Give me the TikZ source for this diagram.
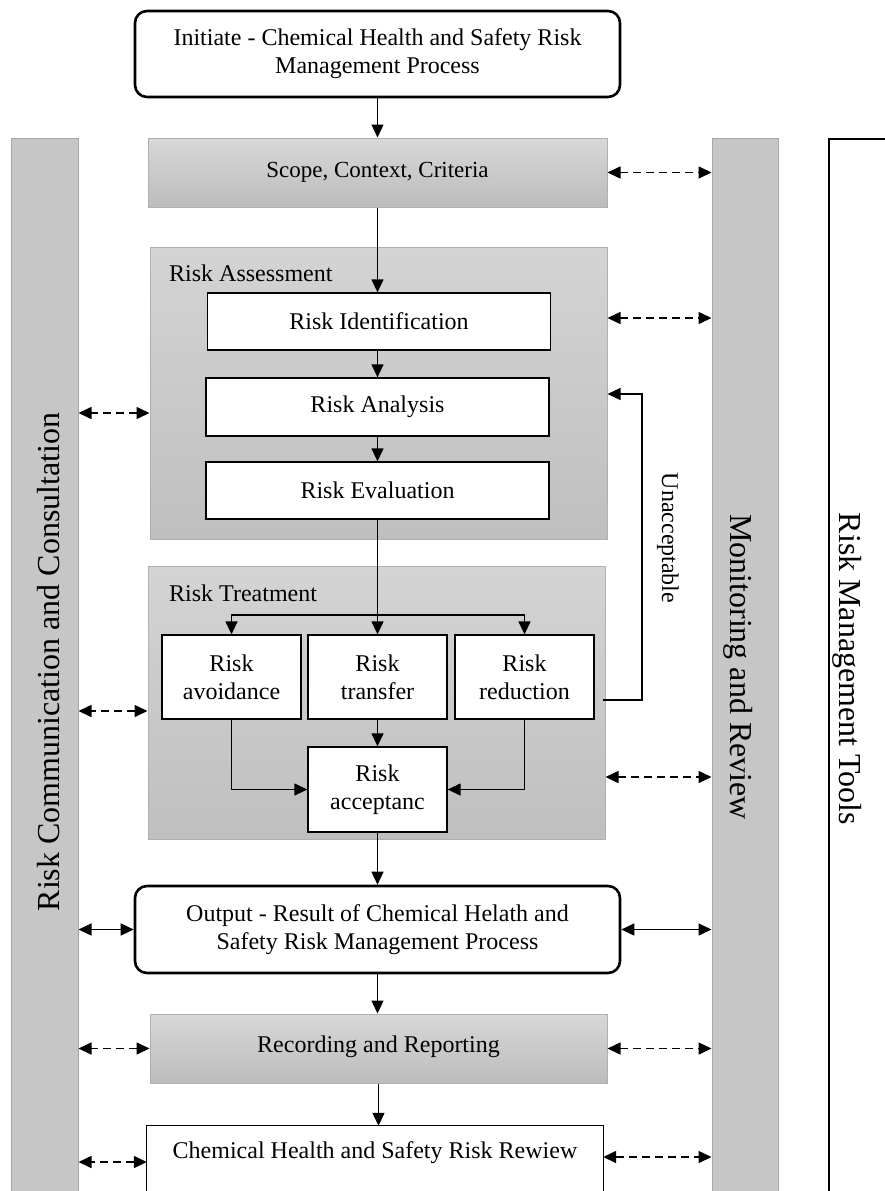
\documentclass[tikz,border=0pt]{standalone}
\usepackage{fontspec}
\setmainfont{Liberation Serif}
\usetikzlibrary{arrows.meta}
\definecolor{gtop}{HTML}{D8D8D8}
\definecolor{gbot}{HTML}{BCBCBC}
\definecolor{ctop}{HTML}{D4D4D4}
\definecolor{cbot}{HTML}{BFBFBF}
\definecolor{boxline}{HTML}{B0B0B0}
\definecolor{barfill}{HTML}{C6C6C6}
\definecolor{barline}{HTML}{A8A8A8}
\begin{document}
\begin{tikzpicture}[x=1pt,y=-1pt,
  font=\fontsize{24}{28}\selectfont,
  wbox/.style={draw=black, fill=white, line width=1.3pt, align=center, inner sep=0pt},
  rbox/.style={wbox, rounded corners=12pt, line width=2.6pt},
  gbox/.style={draw=boxline, line width=1pt, top color=gtop, bottom color=gbot, align=center, inner sep=0pt},
  ctr/.style={draw=boxline, line width=1pt, top color=ctop, bottom color=cbot, inner sep=0pt},
  barbox/.style={draw=barline, fill=barfill, line width=1pt, inner sep=0pt},
  big/.style={font=\fontsize{32}{38}\selectfont, inner sep=0pt},
  arr/.style={line width=1.3pt, -{Triangle[length=13pt,width=12pt]}},
  plain/.style={line width=1.3pt},
  dda/.style={line width=1.6pt, dash pattern=on 8pt off 5pt, {Triangle[length=13pt,width=12pt]}-{Triangle[length=13pt,width=12pt]}},
  sda/.style={line width=1.5pt, {Triangle[length=13pt,width=12pt]}-{Triangle[length=13pt,width=12pt]}}
]
\useasboundingbox (0,0) rectangle (885,1191);

% side bars
\node[barbox, minimum width=67, minimum height=1140] (lbar) at (44.5,708) {};
\node[barbox, minimum width=66, minimum height=1140] (rbar) at (745,708) {};
\node[big, rotate=90] (lcc) at (49,662) {Risk Communication and Consultation};
\node[big, rotate=-90] (lmr) at (738.5,667) {Monitoring and Review};

% tools frame
\coordinate (tb) at (829,1200);
\coordinate (tt) at (829,139);
\coordinate (tr) at (890,139);
\draw[plain] (tb) -- (tt) -- (tr);
\node[big, rotate=-90] (lmt) at (847.5,669) {Risk Management Tools};

% containers
\node[ctr, minimum width=457, minimum height=292] (ra) at (378.5,393) {};
\node[anchor=west, inner sep=0pt] (lra) at (169,273) {Risk Assessment};
\node[ctr, minimum width=457, minimum height=273] (rt) at (376.5,702.5) {};
\node[anchor=west, inner sep=0pt] (lrt) at (169,593) {Risk Treatment};

% boxes
\node[rbox, minimum width=485, minimum height=86] (init) at (377.5,54) {Initiate - Chemical Health and Safety Risk\\Management Process};
\node[gbox, minimum width=459, minimum height=69, font=\fontsize{23}{27}\selectfont] (scope) at (377.5,172.5) {Scope, Context, Criteria};
\node[wbox, minimum width=343, minimum height=57] (rid) at (379,321.5) {Risk Identification};
\node[wbox, minimum width=343, minimum height=58] (ran) at (377.5,407) {Risk Analysis};
\node[wbox, minimum width=343, minimum height=57] (rev) at (377.5,490.5) {Risk Evaluation};
\node[wbox, minimum width=139, minimum height=84] (ravoid) at (231.5,677) {Risk\\avoidance};
\node[wbox, minimum width=139, minimum height=84] (rtrans) at (377.5,677) {Risk\\transfer};
\node[wbox, minimum width=139, minimum height=84] (rred) at (524.5,677) {Risk\\reduction};
\node[wbox, minimum width=139, minimum height=85] (racc) at (377.5,789.5) {Risk\\acceptanc};
\node[rbox, minimum width=485, minimum height=87] (out) at (377.5,929.5) {Output - Result of Chemical Helath and\\Safety Risk Management Process};
\node[gbox, minimum width=457, minimum height=69] (rec) at (378.5,1048.5) {\raisebox{8pt}{Recording and Reporting}};
\node[inner sep=0pt, minimum width=456, minimum height=54] (rvw) at (375,1153) {Chemical Health and Safety Risk Rewiew};
\draw[plain] ([yshift=-40pt]rvw.south west) -- (rvw.north west) -- (rvw.north east) -- ([yshift=-40pt]rvw.south east);

% main flow
\draw[arr] (init.south) -- (init.south |- scope.north);
\draw[arr] (scope.south) -- (scope.south |- rid.north);
\draw[arr] (ran.north |- rid.south) -- (ran.north);
\draw[arr] (ran.south) -- (rev.north);
\coordinate (br) at (377.5,615);
\draw[plain] (rev.south) -- (br);
\draw[arr] (br) -- (rtrans.north);
\draw[arr] (br) -| (ravoid.north);
\draw[arr] (br) -| (rred.north);
\draw[arr] (rtrans.south) -- (racc.north);
\draw[arr] (ravoid.south) |- (racc.west);
\draw[arr] (rred.south) |- (racc.east);
\draw[arr] (racc.south) -- (out.north);
\draw[arr] (out.south) -- (out.south |- rec.north);
\draw[arr] (rec.south) -- (rec.south |- rvw.north);

% unacceptable loop
\coordinate (u0) at (603,700);
\coordinate (u1) at (642,394);
\draw[arr] (u0) -| (u1) -- (u1 -| ra.east);
\node[rotate=-90, inner sep=0pt, font=\fontsize{24}{28}\selectfont] (lun) at (668,538) {Unacceptable};

% right links
\draw[dda] (scope.east) -- (scope.east -| rbar.west);
\coordinate (rar) at ([yshift=75pt]ra.east);
\draw[dda] (rar) -- (rar -| rbar.west);
\coordinate (rtr) at ([yshift=-74.5pt]rt.east);
\draw[dda] (rtr) -- (rtr -| rbar.west);
\draw[sda] (out.east) -- (out.east -| rbar.west);
\draw[dda] (rec.east) -- (rec.east -| rbar.west);
\coordinate (rvr) at ([yshift=-4pt]rvw.east);
\draw[dda] (rvr) -- (rvr -| rbar.west);

% left links
\coordinate (ral) at ([yshift=-20pt]ra.west);
\draw[dda] (ral) -- (ral -| lbar.east);
\coordinate (rtl) at ([yshift=-8.5pt]rt.west);
\draw[dda] (rtl) -- (rtl -| lbar.east);
\draw[sda] (out.west) -- (out.west -| lbar.east);
\draw[dda] (rec.west) -- (rec.west -| lbar.east);
\coordinate (rvl) at ([yshift=-9pt]rvw.west);
\draw[dda] (rvl) -- (rvl -| lbar.east);
\end{tikzpicture}
\end{document}
